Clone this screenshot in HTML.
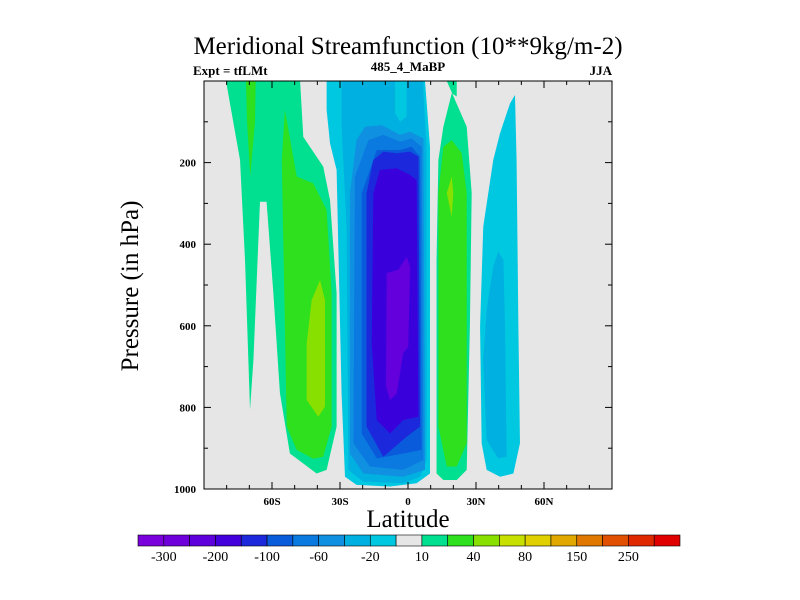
<!DOCTYPE html>
<html><head><meta charset="utf-8"><style>
body{margin:0;background:#fff;}
svg{display:block;font-family:"Liberation Serif",serif;}
</style></head><body>
<svg id="chart" width="800" height="600" viewBox="0 0 800 600">
<text x="408" y="54" font-size="25" text-anchor="middle">Meridional Streamfunction (10**9kg/m-2)</text>
<text x="193" y="75" font-size="13" font-weight="bold">Expt = tfLMt</text>
<text x="408" y="71" font-size="13" font-weight="bold" text-anchor="middle">485_4_MaBP</text>
<text x="612" y="75" font-size="13" font-weight="bold" text-anchor="end">JJA</text>
<text transform="translate(138,286) rotate(-90)" font-size="25" text-anchor="middle">Pressure (in hPa)</text>
<text x="408" y="527" font-size="25" text-anchor="middle">Latitude</text>
<g id="plot"></g>
<g id="cbar"></g>
</svg>
<script>
const latTicks=[-60,-30,0,30,60];
const latTickLabels=["60S","30S","0","30N","60N"];
const pTicks=[200,400,600,800,1000];
const cbLabels=["-300","-200","-100","-60","-20","10","40","80","150","250"];
const cbColors=["#7a00dc","#6e00dc","#5e00dc","#4400dc","#1c28dc","#0a5adc","#0a7ae0","#1090e0","#00b0e0","#00c8e0","#e6e6e6","#00e090","#2ee01e","#88e000","#c8e000","#e0d000","#e0a800","#e07800","#e05000","#e02800","#e00000"];
// contour polygons in (latitude, pressure hPa)
const shapeColors=["#00e090","#2ee01e","#2ee01e","#88e000","#00c8e0","#00b0e0","#1090e0","#0a7ae0","#0a5adc","#1c28dc","#3a00dc","#6400dc","#00e090","#2ee01e","#88e000","#00c8e0","#00b0e0"];
const shapes=[
[[-80.3,0],[-74.1,194],[-71.9,439],[-69.7,806],[-68.2,684],[-65.3,296],[-62.4,296],[-59.4,520],[-56.5,765],[-52.1,913],[-40.3,962],[-35.9,953],[-31.5,847],[-31.5,520],[-34.4,292],[-37.4,210],[-46.2,137],[-47.6,0]],
[[-71.5,0],[-67.2,0],[-67.5,100],[-69.6,234],[-71,100]],
[[-54.3,71],[-49.1,234],[-41.8,251],[-35.9,316],[-33.7,520],[-33.7,847],[-37.4,921],[-41.8,926],[-49.1,904],[-53.5,847],[-54.3,602],[-55.7,194]],
[[-38.8,488],[-36.6,537],[-36.6,798],[-39.6,823],[-44.7,782],[-44.7,643],[-42.5,537]],
[[-35.9,0],[-35.9,71],[-34.4,153],[-31.5,218],[-29.3,766],[-27.8,970],[-22.7,990],[-7.9,994],[3.8,986],[9.7,962],[9.7,161],[7.5,0]],
[[-29.3,0],[-29.3,112],[-27.1,357],[-26.3,953],[-19.7,982],[-2.1,986],[5.3,970],[8.2,929],[8.2,169],[6.8,30],[6.8,0],[-0.6,0],[-0.6,87],[-3.5,100],[-5.7,79],[-5.7,0]],
[[-19.0,112],[-11.6,108],[-3.5,132],[0.9,124],[6.8,141],[7.5,953],[-2.1,970],[-19.7,962],[-25.6,913],[-25.6,275],[-22.7,145]],
[[-17.5,145],[-10.9,132],[-3.5,149],[1.6,141],[6.0,161],[6.8,929],[-2.1,953],[-16.8,945],[-24.1,888],[-23.4,234]],
[[-13.8,169],[-3.5,169],[1.6,161],[5.3,185],[6.0,904],[-2.1,913],[-13.8,925],[-20.4,864],[-20.4,275]],
[[-10.9,173],[-5.0,177],[0.9,173],[4.6,185],[5.3,847],[-0.6,872],[-10.9,921],[-18.3,847],[-18.3,275],[-15.3,194]],
[[-12.4,218],[-5.0,214],[0.9,230],[3.8,243],[4.6,823],[-2.1,831],[-7.9,864],[-13.8,831],[-16.0,643],[-15.3,275]],
[[-9.4,471],[-4.3,463],[-0.6,431],[0.9,455],[0.1,651],[-2.1,667],[-5.0,766],[-7.9,782],[-9.7,749]],
[[17.1,0],[21.5,0],[21.5,38],[19.3,30],[15.6,112],[13.4,194],[12.6,439],[12.6,962],[15.6,978],[21.5,978],[25.9,953],[27.3,602],[28.1,275],[25.9,112]],
[[15.6,161],[19.3,145],[23.7,177],[25.9,275],[25.9,888],[21.5,945],[17.1,945],[13.4,847],[13.4,275]],
[[19.3,234],[17.1,275],[19.3,333],[20.0,275]],
[[47.2,34],[47.9,194],[48.7,602],[49.4,888],[46.5,962],[40.6,970],[34.7,953],[32.5,888],[31.8,602],[33.2,357],[37.6,194],[40.6,128],[45.0,55]],
[[39.8,418],[42.1,439],[42.8,602],[43.5,921],[39.8,925],[34.7,880],[33.2,684],[34.7,561],[37.6,455]]
];
const X0=204,X1=612,Y0=81,Y1=489;
const xs=lat=>X0+(lat+90)/180*(X1-X0);
const ys=p=>Y0+p/1000*(Y1-Y0);
const NS="http://www.w3.org/2000/svg";
const plot=document.getElementById('plot');
function mk(tag,attrs,parent){const e=document.createElementNS(NS,tag);for(const k in attrs)e.setAttribute(k,attrs[k]);parent.appendChild(e);return e;}
const bg=mk('rect',{x:X0,y:Y0,width:X1-X0,height:Y1-Y0,fill:'#e6e6e6'},plot);


shapes.forEach((s,i)=>{
  const pg=mk('polygon',{points:s.map(q=>xs(q[0])+','+ys(q[1])).join(' '),fill:shapeColors[i]},plot);
  
  
});
const fr=mk('rect',{x:X0,y:Y0,width:X1-X0,height:Y1-Y0,fill:'none',stroke:'#000','stroke-width':1},plot);


for(let lat=-90;lat<=90;lat+=10){
  const major=lat%30===0, L=major?7:4, x=xs(lat);
  mk('line',{x1:x,x2:x,y1:Y1,y2:Y1-L,stroke:'#000'},plot);
  mk('line',{x1:x,x2:x,y1:Y0,y2:Y0+L,stroke:'#000'},plot);
}
for(let p=0;p<=1000;p+=100){
  const major=p%200===0, L=major?7:4, y=ys(p);
  mk('line',{x1:X0,x2:X0+L,y1:y,y2:y,stroke:'#000'},plot);
  mk('line',{x1:X1,x2:X1-L,y1:y,y2:y,stroke:'#000'},plot);
}
latTicks.forEach((lat,i)=>{
  const t=mk('text',{x:xs(lat),y:Y1+16,'font-size':11,'font-weight':'bold','text-anchor':'middle'},plot);
  t.textContent=latTickLabels[i];
  
  
});
pTicks.forEach(p=>{
  const t=mk('text',{x:X0-8,y:ys(p)+4,'font-size':11,'font-weight':'bold','text-anchor':'end'},plot);
  t.textContent=p;
  
  
});
const cb=document.getElementById('cbar');
const CX0=138,CX1=680,CY=535,CH=11,bw=(CX1-CX0)/cbColors.length;
cbColors.forEach((c,i)=>{
  const r=mk('rect',{x:CX0+i*bw,y:CY,width:bw,height:CH,fill:c,stroke:'#000','stroke-width':0.6},cb);
  
  
});
cbLabels.forEach((l,i)=>{
  const t=mk('text',{x:CX0+(1+2*i)*bw,y:CY+CH+15,'font-size':14,'text-anchor':'middle'},cb);
  t.textContent=l;
  
  
});
</script>
</body></html>
